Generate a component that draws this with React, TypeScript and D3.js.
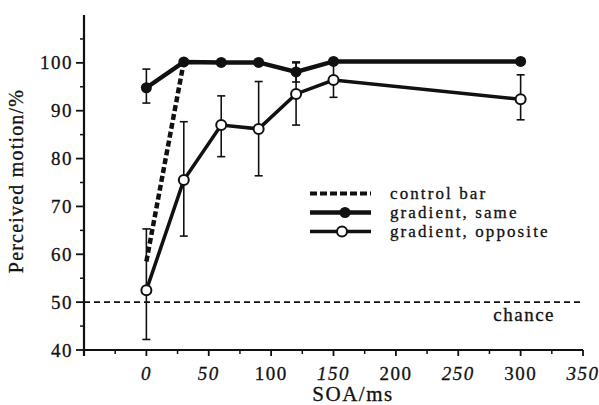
import React, { useRef, useEffect } from 'react';
import * as d3 from 'd3';

// SOA values (ms) shared by both gradient series
const soa = [0, 30, 60, 90, 120, 150, 300];

// gradient, same (filled circles)
const sameMean = [94.8, 100.2, 100.1, 100.1, 98.1, 100.3, 100.3];
const sameLow: (number | null)[] = [91.6, null, null, null, 96.0, null, null];
const sameHigh: (number | null)[] = [98.7, null, null, null, 100.2, null, null];

// gradient, opposite (open circles)
const oppMean = [52.5, 75.5, 87.0, 86.2, 93.5, 96.4, 92.4];
const oppLow = [42.2, 63.8, 80.4, 76.4, 87.0, 92.8, 88.1];
const oppHigh = [65.3, 87.7, 93.1, 96.1, 100.0, 100.0, 97.5];

// control bar (dashed)
const controlSoa = [0, 30];
const controlMean = [58.5, 100.2];

const chanceLevel = 50;

const xTicks = [0, 50, 100, 150, 200, 250, 300, 350];
const xMinorTicks = [-25, 25, 75, 125, 175, 225, 275, 325];
const yTicks = [40, 50, 60, 70, 80, 90, 100];
const yMinorTicks = [45, 55, 65, 75, 85, 95, 105];

const legendLabels = ['control bar', 'gradient, same', 'gradient, opposite'];

const FONT = '"Liberation Serif", "Times New Roman", serif';

const App = () => {
  const svgRef = useRef<SVGSVGElement>(null);

  useEffect(() => {
    const svg = d3.select(svgRef.current);
    svg.selectAll('*').remove();

    const x = d3.scaleLinear().domain([-50, 350]).range([84, 583]);
    const y = d3.scaleLinear().domain([40, 110]).range([350, 15]);

    const g = svg.append('g')
      .attr('font-family', FONT)
      .attr('fill', '#111');

    // text looks a little heavier in the scan
    const txt = (sel: any) => sel.attr('stroke', '#111').attr('stroke-width', 0.3);

    // chance line
    g.append('line')
      .attr('x1', x(-50)).attr('x2', x(350))
      .attr('y1', y(chanceLevel)).attr('y2', y(chanceLevel))
      .attr('stroke', '#111').attr('stroke-width', 1.6)
      .attr('stroke-dasharray', '6,4');
    g.append('text')
      .attr('x', 555).attr('y', y(chanceLevel) + 19)
      .attr('text-anchor', 'end')
      .attr('font-size', 19).attr('letter-spacing', 1.5)
      .call(txt)
      .text('chance');

    // axes
    g.append('line')
      .attr('x1', x(-50)).attr('x2', x(-50))
      .attr('y1', y(110)).attr('y2', y(40) + 6)
      .attr('stroke', '#111').attr('stroke-width', 2.2);
    g.append('line')
      .attr('x1', x(-50)).attr('x2', x(350))
      .attr('y1', y(40)).attr('y2', y(40))
      .attr('stroke', '#111').attr('stroke-width', 2.2);

    // x ticks
    g.selectAll('.xt').data(xTicks).enter().append('line')
      .attr('x1', d => x(d)).attr('x2', d => x(d))
      .attr('y1', y(40)).attr('y2', y(40) + 6)
      .attr('stroke', '#111').attr('stroke-width', 1.8);
    g.selectAll('.xm').data(xMinorTicks).enter().append('line')
      .attr('x1', d => x(d)).attr('x2', d => x(d))
      .attr('y1', y(40)).attr('y2', y(40) + 4)
      .attr('stroke', '#111').attr('stroke-width', 1.5);
    g.selectAll('.xl').data(xTicks).enter().append('text')
      .attr('x', d => x(d)).attr('y', 380)
      .attr('text-anchor', 'middle')
      .attr('font-size', 19).attr('letter-spacing', 1.5)
      .attr('font-style', d => (d % 100 === 0 && d !== 0 ? 'normal' : 'italic'))
      .call(txt)
      .text(d => d);

    // y ticks
    g.selectAll('.yt').data(yTicks).enter().append('line')
      .attr('x1', x(-50) - 8).attr('x2', x(-50))
      .attr('y1', d => y(d)).attr('y2', d => y(d))
      .attr('stroke', '#111').attr('stroke-width', 1.8);
    g.selectAll('.ym').data(yMinorTicks).enter().append('line')
      .attr('x1', x(-50) - 4).attr('x2', x(-50))
      .attr('y1', d => y(d)).attr('y2', d => y(d))
      .attr('stroke', '#111').attr('stroke-width', 1.5);
    g.selectAll('.yl').data(yTicks).enter().append('text')
      .attr('x', 73).attr('y', d => y(d) + 6.5)
      .attr('text-anchor', 'end')
      .attr('font-size', 19).attr('letter-spacing', 1.5)
      .call(txt)
      .text(d => d);

    // axis titles
    g.append('text')
      .attr('x', 353).attr('y', 401)
      .attr('text-anchor', 'middle')
      .attr('font-size', 21).attr('letter-spacing', 1.5)
      .call(txt)
      .text('SOA/ms');
    g.append('text')
      .attr('transform', `translate(23,181) rotate(-90)`)
      .attr('text-anchor', 'middle')
      .attr('font-size', 20).attr('letter-spacing', 1.2)
      .call(txt)
      .text('Perceived motion/%');

    const line = d3.line<[number, number]>().x(d => x(d[0])).y(d => y(d[1]));

    // control bar
    g.append('path')
      .datum(controlSoa.map((s, i) => [s, controlMean[i]] as [number, number]))
      .attr('d', line)
      .attr('fill', 'none').attr('stroke', '#111')
      .attr('stroke-width', 4.5).attr('stroke-dasharray', '6,3');

    // error bars
    const errorBars = (lo: (number | null)[], hi: (number | null)[]) => {
      soa.forEach((s, i) => {
        const a = lo[i];
        const b = hi[i];
        if (a == null || b == null) return;
        const eb = g.append('g').attr('stroke', '#111').attr('stroke-width', 1.6);
        eb.append('line').attr('x1', x(s)).attr('x2', x(s)).attr('y1', y(a)).attr('y2', y(b));
        eb.append('line').attr('x1', x(s) - 4).attr('x2', x(s) + 4).attr('y1', y(a)).attr('y2', y(a));
        eb.append('line').attr('x1', x(s) - 4).attr('x2', x(s) + 4).attr('y1', y(b)).attr('y2', y(b));
      });
    };
    errorBars(oppLow, oppHigh);
    errorBars(sameLow, sameHigh);

    // gradient, opposite
    g.append('path')
      .datum(soa.map((s, i) => [s, oppMean[i]] as [number, number]))
      .attr('d', line)
      .attr('fill', 'none').attr('stroke', '#111').attr('stroke-width', 3.5);

    // gradient, same
    g.append('path')
      .datum(soa.map((s, i) => [s, sameMean[i]] as [number, number]))
      .attr('d', line)
      .attr('fill', 'none').attr('stroke', '#111').attr('stroke-width', 4.5);

    g.selectAll('.same').data(soa).enter().append('circle')
      .attr('cx', d => x(d)).attr('cy', (d, i) => y(sameMean[i]))
      .attr('r', 5.5).attr('fill', '#111');
    g.selectAll('.opp').data(soa).enter().append('circle')
      .attr('cx', d => x(d)).attr('cy', (d, i) => y(oppMean[i]))
      .attr('r', 5).attr('fill', '#fff')
      .attr('stroke', '#111').attr('stroke-width', 2);

    // legend
    const lx0 = 310, lx1 = 371, tx = 390;
    const rows = [193.5, 212.5, 231.5];
    const leg = g.append('g');
    leg.append('line')
      .attr('x1', lx0).attr('x2', lx1).attr('y1', rows[0]).attr('y2', rows[0])
      .attr('stroke', '#111').attr('stroke-width', 4).attr('stroke-dasharray', '7,3');
    leg.append('line')
      .attr('x1', lx0).attr('x2', lx1).attr('y1', rows[1]).attr('y2', rows[1])
      .attr('stroke', '#111').attr('stroke-width', 4.5);
    leg.append('circle').attr('cx', 345).attr('cy', rows[1]).attr('r', 5.5).attr('fill', '#111');
    leg.append('line')
      .attr('x1', lx0).attr('x2', lx1).attr('y1', rows[2]).attr('y2', rows[2])
      .attr('stroke', '#111').attr('stroke-width', 3.5);
    leg.append('circle').attr('cx', 342).attr('cy', rows[2]).attr('r', 5)
      .attr('fill', '#fff').attr('stroke', '#111').attr('stroke-width', 2);
    leg.selectAll('.lt').data(legendLabels).enter().append('text')
      .attr('x', tx).attr('y', (d, i) => rows[i] + 5.5)
      .attr('font-size', 17).attr('letter-spacing', 2.1)
      .call(txt)
      .text(d => d);
  }, []);

  return (
    <svg
      ref={svgRef}
      width={599}
      height={405}
      style={{ position: 'absolute', left: 0, top: 0, background: '#fff' }}
    />
  );
};

export default App;
